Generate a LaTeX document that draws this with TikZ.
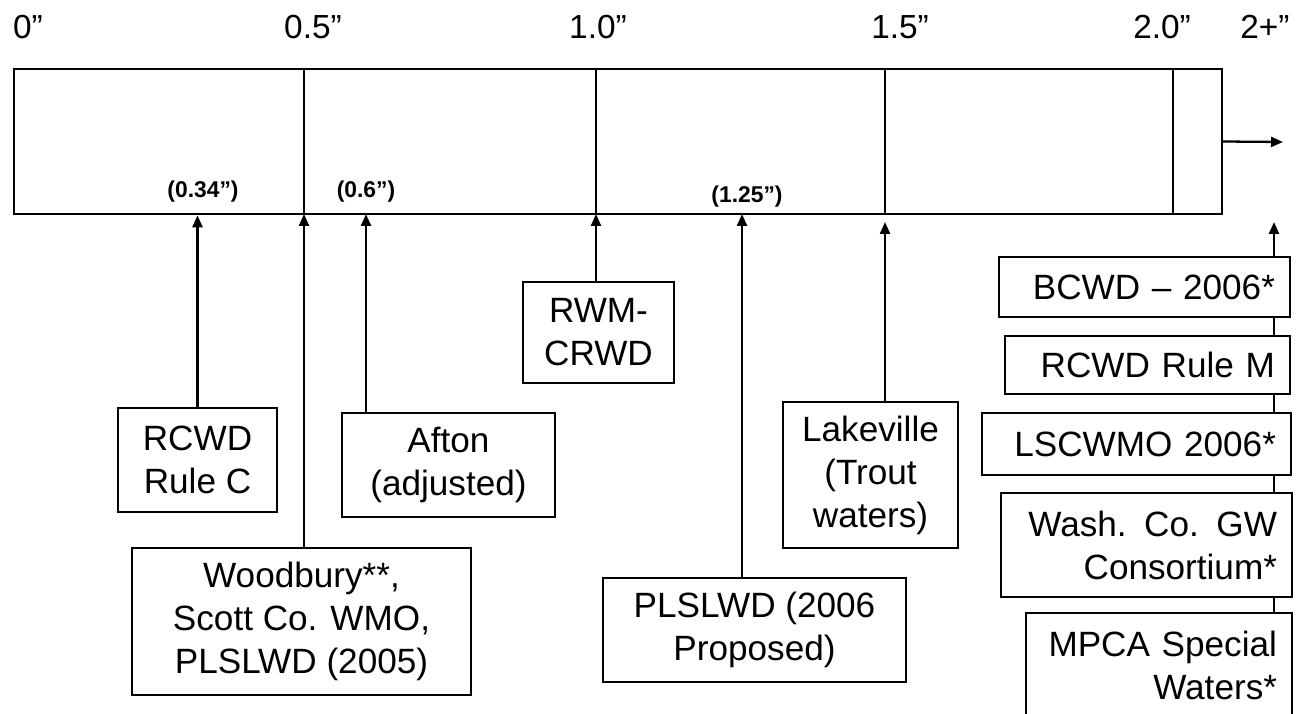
\documentclass[tikz,border=0pt]{standalone}
\usepackage{fontspec}
\setmainfont{Liberation Sans}
\usetikzlibrary{arrows.meta,positioning,calc}
\tikzset{
  rulebox/.style={draw, line width=1.3pt, fill=white, align=center,
                  inner sep=2pt, font=\fontsize{20}{24.5}\selectfont},
  colbox/.style={draw, line width=1.3pt, fill=white, align=right,
                 inner xsep=0.3cm, inner ysep=2pt, font=\fontsize{20}{24.5}\selectfont},
  ticklabel/.style={anchor=base, inner sep=0pt, font=\fontsize{19}{22}\selectfont},
  amountlabel/.style={anchor=base, inner sep=0pt, font=\fontsize{13}{15}\selectfont\bfseries},
  arr/.style={-{Triangle[length=2.4mm,width=2mm]}, line width=1.3pt}}

\begin{document}
\begin{tikzpicture}[x=0.02cm, y=-0.02cm]
    \useasboundingbox (0,0) rectangle (1297,713);
    % the scale bar
    \node[draw, line width=1.5pt, minimum width=24.16cm, minimum height=2.9cm,
          inner sep=0pt] (bar) at (618,141.5) {};
    \foreach \x in {304,596,885,1173}
      \draw[line width=1.3pt] (\x,69) -- (\x,214);
    \node[ticklabel] (l0)  at (28,39)   {0”};
    \node[ticklabel] (l05) at (313,39)  {0.5”};
    \node[ticklabel] (l10) at (598,39)  {1.0”};
    \node[ticklabel] (l15) at (900,39)  {1.5”};
    \node[ticklabel] (l20) at (1162,39) {2.0”};
    \node[ticklabel] (l2p) at (1265,39) {2+”};
    \node[amountlabel] (a034) at (203,197) {(0.34”)};
    \node[amountlabel] (a06)  at (366,197) {(0.6”)};
    \node[amountlabel] (a125) at (747,202) {(1.25”)};
    \coordinate (more) at (1283,142);
    \draw[arr] (bar.east) -- (more);
    % where the arrows meet the bar
    \coordinate (t05)  at (304,214);
    \coordinate (p06)  at (366,214);
    \coordinate (t10)  at (596,214);
    \coordinate (p125) at (742,214);
    \coordinate (p15)  at (885,222);
    \coordinate (p2)   at (1274,222);
    % rules below the bar
    \node[rulebox, minimum width=3.18cm, minimum height=2.08cm] (rcwdC) at (197.5,460)
      {RCWD\\Rule C};
    \node[rulebox, minimum width=6.78cm, minimum height=2.94cm] (woodbury) at (301.5,621.5)
      {Woodbury**,\\Scott Co. WMO,\\PLSLWD (2005)};
    \node[rulebox, minimum width=4.26cm, minimum height=2.08cm] (afton) at (448.5,465)
      {Afton\\(adjusted)};
    \node[rulebox, minimum width=3.02cm, minimum height=2.02cm] (rwm) at (598.5,332.5)
      {RWM-\\CRWD};
    \node[rulebox, minimum width=6.06cm, minimum height=2.08cm] (plslwd) at (754.5,630)
      {PLSLWD (2006\\Proposed)};
    \node[rulebox, minimum width=3.5cm, minimum height=2.92cm] (lakeville) at (870.5,475)
      {Lakeville\\(Trout\\waters)};
    \draw[arr] (rcwdC) -- (rcwdC |- bar.south);
    \draw[arr] (woodbury.north -| t05) -- (t05);
    \draw[arr] (afton.north -| p06) -- (p06);
    \draw[arr] (rwm.north -| t10) -- (t10);
    \draw[arr] (plslwd.north -| p125) -- (p125);
    \draw[arr] (lakeville.north -| p15) -- (p15);
    % 2+ column
    \node[colbox, text width=5.22cm, minimum height=1.2cm] (bcwd) at (1144.5,287)
      {BCWD – 2006*};
    \node[colbox, text width=5.1cm, minimum height=1.16cm] (rcwdM) at (1147.5,365)
      {RCWD Rule M};
    \node[colbox, text width=5.58cm, minimum height=1.24cm] (lscwmo) at (1136.5,444)
      {LSCWMO 2006*};
    \node[colbox, text width=5.22cm, minimum height=2.08cm] (wash) at (1146.5,545)
      {Wash. Co. GW\\Consortium*};
    \node[colbox, text width=4.72cm, minimum height=2.08cm] (mpca) at (1159,665)
      {MPCA Special\\Waters*};
    \draw[arr] (bcwd.north -| p2) -- (p2);
    \draw[line width=1.3pt] (bcwd.south -| p2) -- (rcwdM.north -| p2);
    \draw[line width=1.3pt] (rcwdM.south -| p2) -- (lscwmo.north -| p2);
    \draw[line width=1.3pt] (lscwmo.south -| p2) -- (wash.north -| p2);
    \draw[line width=1.3pt] (wash.south -| p2) -- (mpca.north -| p2);
\end{tikzpicture}
\end{document}
